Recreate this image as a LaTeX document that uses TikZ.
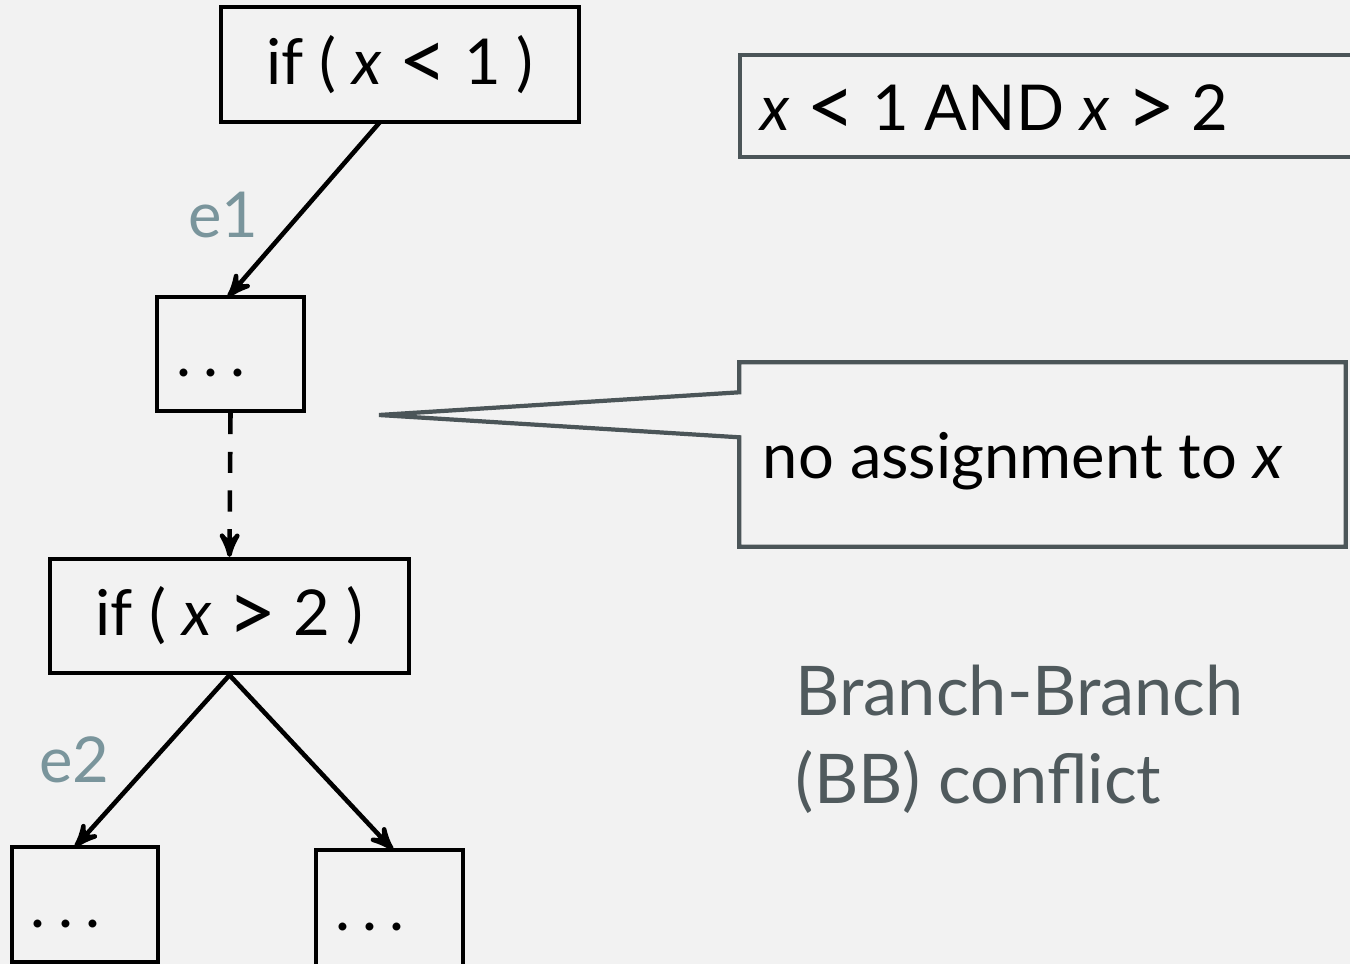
\documentclass[tikz,border=0pt]{standalone}
\usepackage{fontspec}
\setmainfont{Lato}
\usetikzlibrary{arrows}
\definecolor{bggray}{RGB}{242,242,242}
\definecolor{framegray}{RGB}{75,85,88}
\definecolor{edgegray}{RGB}{122,149,156}
\definecolor{titlegray}{RGB}{80,90,93}
\newcommand{\cmplt}{\raisebox{-0.1em}{\scalebox{1.35}{<}}}
\newcommand{\cmpgt}{\raisebox{-0.1em}{\scalebox{1.35}{>}}}
\newcommand{\threedots}{\vphantom{if}.\kern3.5pt.\kern3.5pt.\kern11pt}
\tikzset{
    block/.style={rectangle,draw,line width=1.2pt,inner sep=0pt},
    note/.style={rectangle,draw=framegray,line width=1.2pt,inner sep=0pt},
    dedge/.style={->,> = stealth',line width=1.3pt},
    skip/.style={->,> = stealth',line width=1.3pt,dash pattern=on 6pt off 5pt},
    callout/.style={draw=framegray,line width=1.2pt},
    elabel/.style={text=edgegray,anchor=base west},
    txt/.style={anchor=base west,inner sep=0pt},
}

\begin{document}
\begin{tikzpicture}[font=\fontsize{18}{22}\selectfont]
    \clip (0,0) rectangle (13.5,-9.64);
    \fill[bggray] (0,0) rectangle (13.5,-9.64);
    % flow graph
    \node[block, minimum width=3.58cm, minimum height=1.15cm] (c1) at (4.00,-0.645) {if ( \textit{x} \cmplt{} 1 )};
    \node[block, minimum width=1.47cm, minimum height=1.14cm] (s1) at (2.305,-3.54) {\threedots};
    \node[block, minimum width=3.59cm, minimum height=1.14cm] (c2) at (2.295,-6.16) {if ( \textit{x} \cmpgt{} 2 )};
    \node[block, minimum width=1.46cm, minimum height=1.15cm] (t1) at (0.85,-9.045) {\threedots};
    \node[block, minimum width=1.47cm, minimum height=1.16cm] (t2) at (3.895,-9.08) {\threedots};
    \draw[dedge] (3.80,-1.22) -- (2.28,-2.97);
    \draw[skip] (s1.south) -- (c2.north);
    \draw[dedge] (c2.south) -- (0.75,-8.47);
    \draw[dedge] (c2.south) -- (3.93,-8.50);
    \node[elabel] (e1) at (1.76,-2.37) {e1};
    \node[elabel] (e2) at (0.27,-7.82) {e2};
    % path condition
    \node[note, minimum width=6.20cm, minimum height=1.02cm] (pc) at (10.50,-1.06) {};
    \node[txt] (pctext) at (7.60,-1.30) {\textit{x} \cmplt{} 1 AND \textit{x} \cmpgt{} 2};
    % callout
    \node[minimum width=6.05cm, minimum height=1.83cm, inner sep=0pt] (asg) at (10.425,-4.545) {};
    \coordinate (tip) at (3.79,-4.15);
    \draw[callout] ([yshift=-0.30cm]asg.north west) -- (asg.north west) -- (asg.north east)
        -- (asg.south east) -- (asg.south west) -- ([yshift=-0.75cm]asg.north west)
        -- (tip) -- cycle;
    \node[txt] (asgtext) at (7.62,-4.78) {no assignment to \textit{x}};
    % conflict kind
    \node[txt, text=titlegray, font=\fontsize{19.5}{24}\selectfont] (kind1) at (7.95,-7.15) {Branch-Branch};
    \node[txt, text=titlegray, font=\fontsize{19.5}{24}\selectfont] (kind2) at (7.95,-8.03) {(BB) conflict};
\end{tikzpicture}
\end{document}
